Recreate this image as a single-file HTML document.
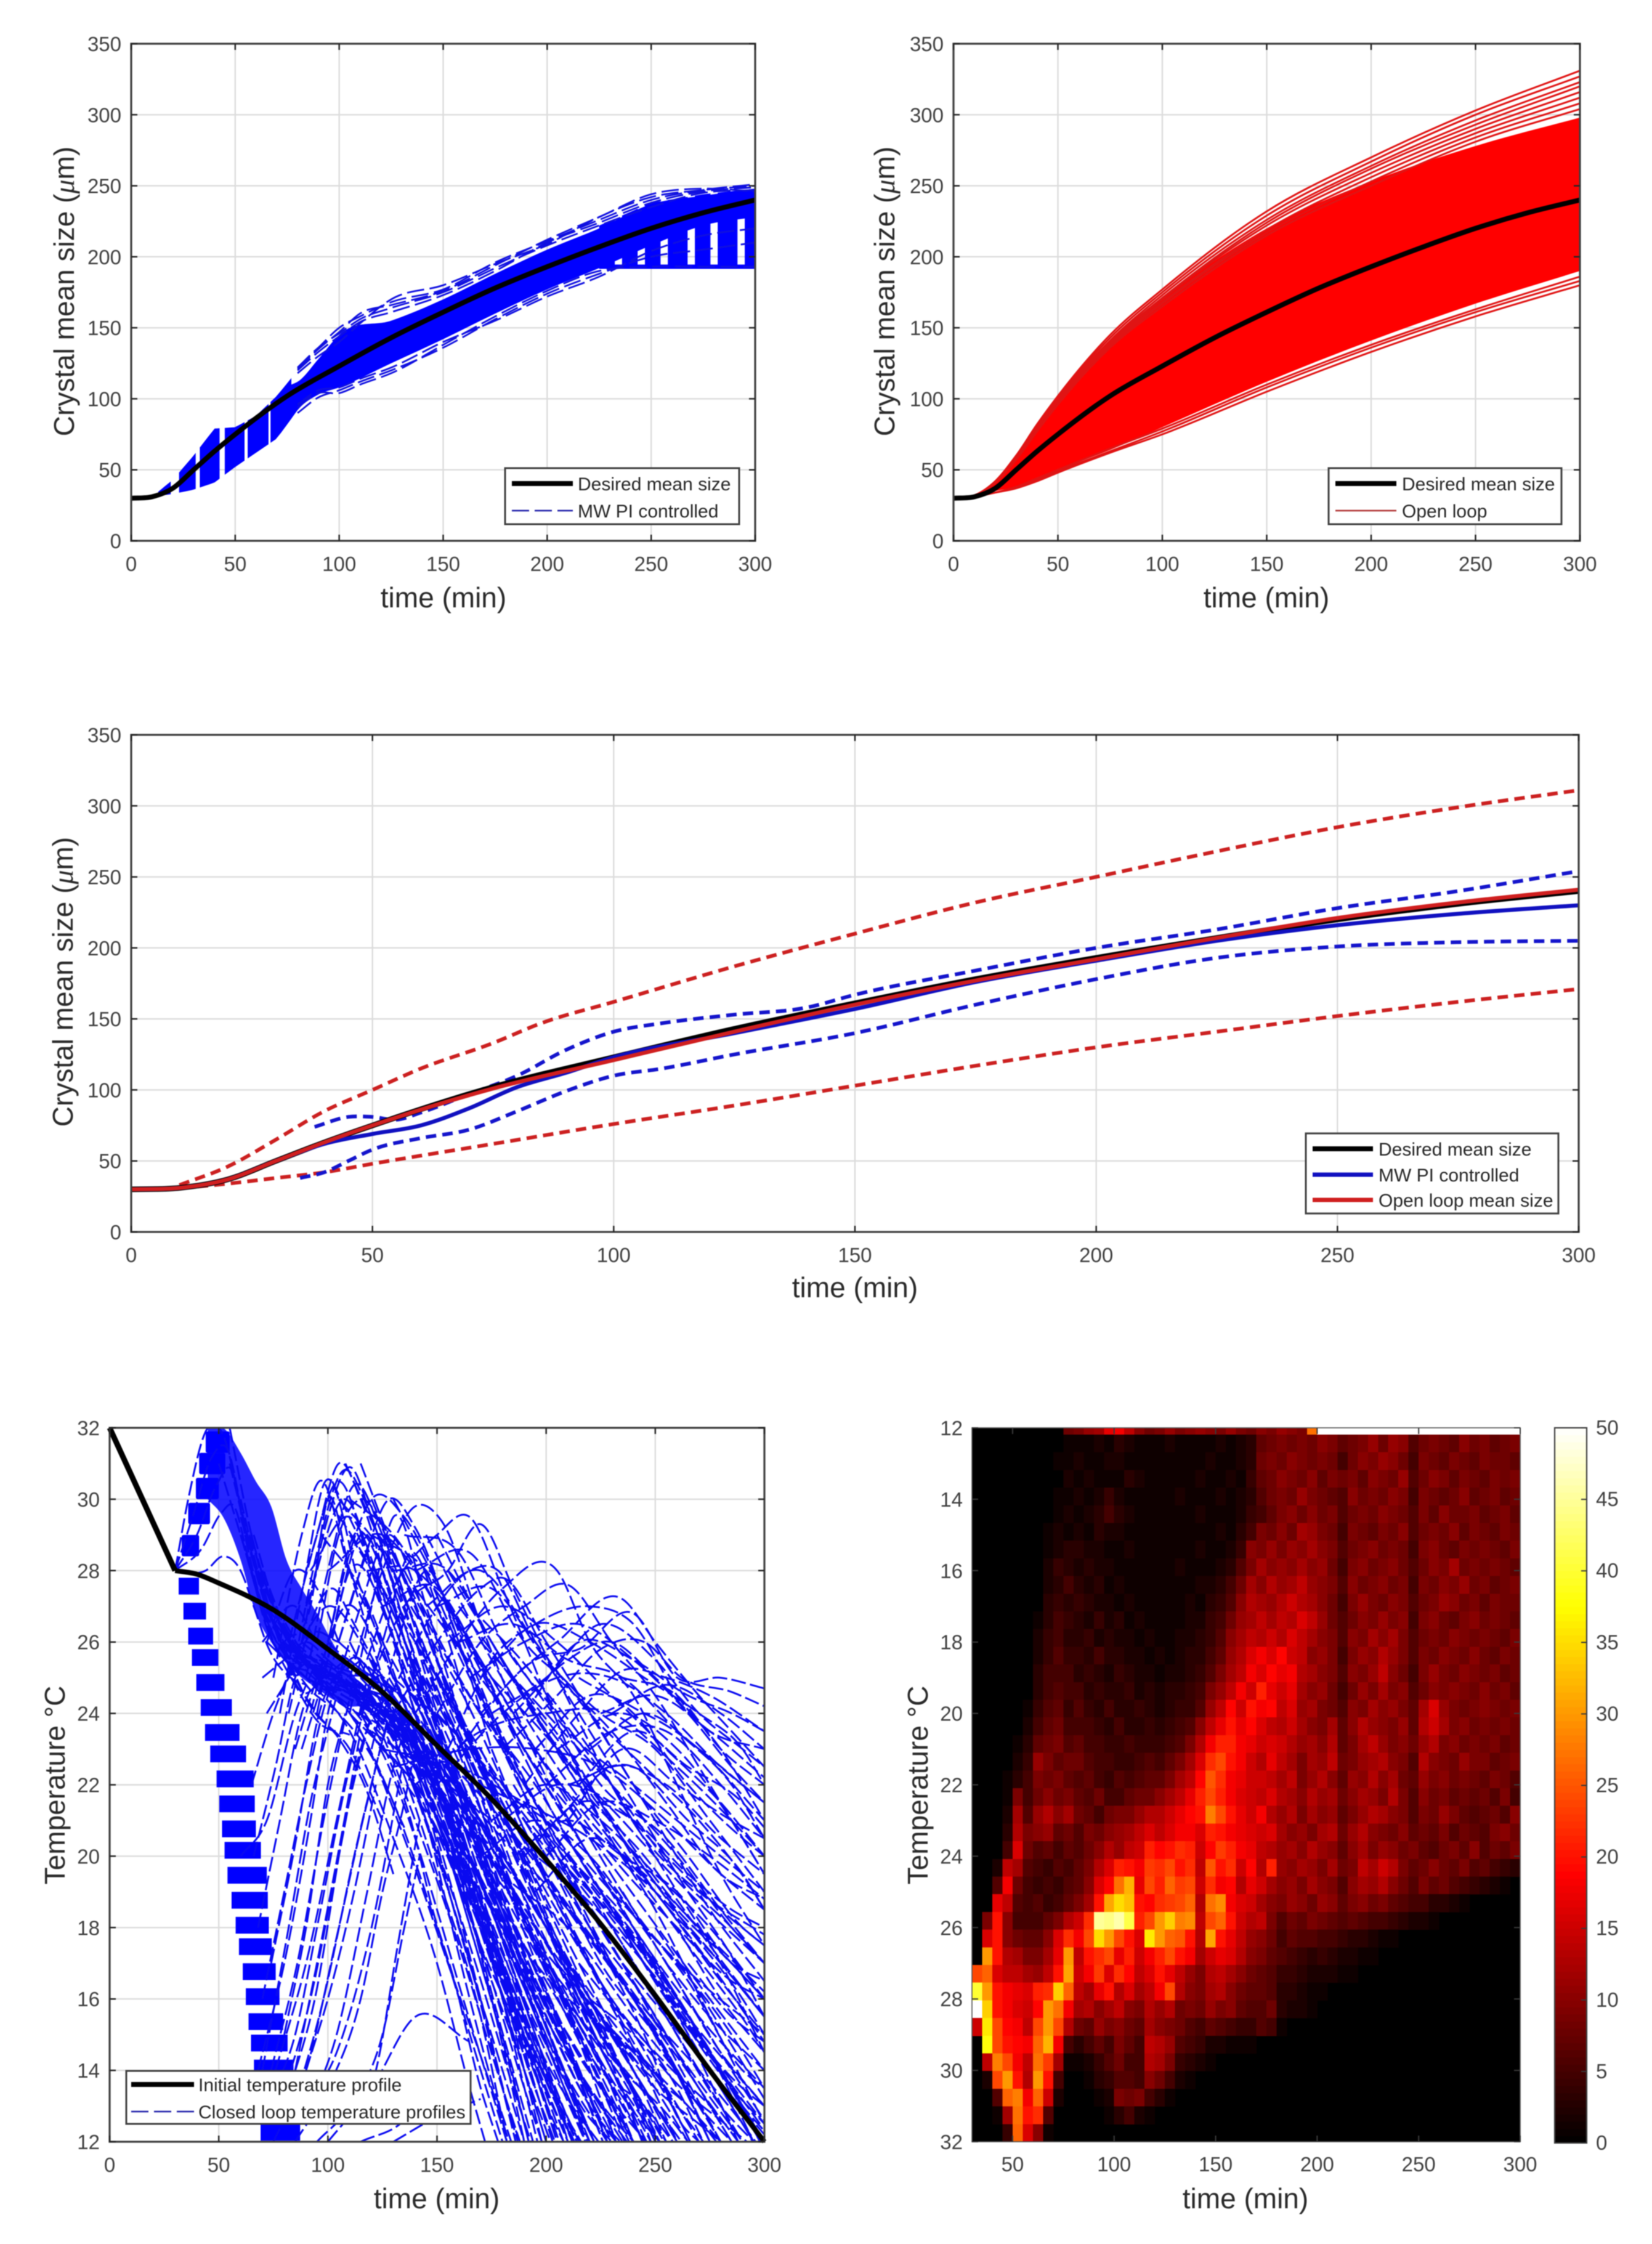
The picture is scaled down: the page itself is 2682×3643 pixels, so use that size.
<!DOCTYPE html>
<html lang="en">
<head>
<meta charset="utf-8">
<title>Crystal mean size and temperature charts</title>
<style>
html,body{margin:0;padding:0;background:#fff;}
svg{display:block;filter:blur(0.7px);font-family:"Liberation Sans",sans-serif;}
.tick{font-size:33px;fill:#404040;}
.title{font-size:46px;fill:#2a2a2a;text-anchor:middle;}
.leg{font-size:30px;fill:#262626;}
.box{fill:#fff;stroke:#404040;stroke-width:3;}
</style>
</head>
<body>
<svg id="root" xmlns="http://www.w3.org/2000/svg" width="2682" height="3643" viewBox="0 0 2682 3643">
<rect width="2682" height="3643" fill="#fff"/>

<g>
  <g id="c1"></g>
  <text class="title" x="720" y="986">time (min)</text>
  <text class="title" transform="translate(120,473) rotate(-90)">Crystal mean size (<tspan font-family="Liberation Serif" font-style="italic">μ</tspan>m)</text>
  <g>
    <rect class="box" x="820" y="760" width="380" height="91"/>
    <line x1="831" x2="930" y1="785" y2="785" stroke="#000" stroke-width="8"/>
    <line x1="831" x2="930" y1="829" y2="829" stroke="#1a1aa8" stroke-width="2.5" stroke-dasharray="28 9"/>
    <text class="leg" x="938" y="796">Desired mean size</text>
    <text class="leg" x="938" y="840">MW PI controlled</text>
  </g>
</g>

<g>
  <g id="c2"></g>
  <text class="title" x="2056" y="986">time (min)</text>
  <text class="title" transform="translate(1452,473) rotate(-90)">Crystal mean size (<tspan font-family="Liberation Serif" font-style="italic">μ</tspan>m)</text>
  <g>
    <rect class="box" x="2157" y="760" width="378" height="91"/>
    <line x1="2168" x2="2267" y1="785" y2="785" stroke="#000" stroke-width="8"/>
    <line x1="2168" x2="2267" y1="829" y2="829" stroke="#b03030" stroke-width="2.5"/>
    <text class="leg" x="2276" y="796">Desired mean size</text>
    <text class="leg" x="2276" y="840">Open loop</text>
  </g>
</g>

<g>
  <g id="c3"></g>
  <text class="title" x="1388" y="2106">time (min)</text>
  <text class="title" transform="translate(118,1594) rotate(-90)">Crystal mean size (<tspan font-family="Liberation Serif" font-style="italic">μ</tspan>m)</text>
  <g>
    <rect class="box" x="2120" y="1840" width="410" height="130"/>
    <line x1="2131" x2="2229" y1="1865" y2="1865" stroke="#000" stroke-width="8"/>
    <line x1="2131" x2="2229" y1="1907" y2="1907" stroke="#1010c0" stroke-width="7"/>
    <line x1="2131" x2="2229" y1="1948" y2="1948" stroke="#d01f1f" stroke-width="7"/>
    <text class="leg" x="2238" y="1876">Desired mean size</text>
    <text class="leg" x="2238" y="1918">MW PI controlled</text>
    <text class="leg" x="2238" y="1959">Open loop mean size</text>
  </g>
</g>

<g>
  <g id="c4"></g>
  <text class="title" x="709" y="3585">time (min)</text>
  <text class="title" transform="translate(105,2898) rotate(-90)">Temperature °C</text>
  <g>
    <rect class="box" x="205" y="3362" width="559" height="86"/>
    <line x1="213" x2="315" y1="3384" y2="3384" stroke="#000" stroke-width="8"/>
    <line x1="213" x2="315" y1="3428" y2="3428" stroke="#1a1aa8" stroke-width="2.5" stroke-dasharray="28 9"/>
    <text class="leg" x="322" y="3395">Initial temperature profile</text>
    <text class="leg" x="322" y="3439">Closed loop temperature profiles</text>
  </g>
</g>

<g>
  <g id="c5"></g>
  <text class="title" x="2022" y="3585">time (min)</text>
  <text class="title" transform="translate(1506,2898) rotate(-90)">Temperature °C</text>
</g>
</svg>

<script>
/* ---------- shared axis labels ---------- */
const sizeTicks = [0, 50, 100, 150, 200, 250, 300, 350];
const timeTicks = [0, 50, 100, 150, 200, 250, 300];
const tempTicks = [12, 14, 16, 18, 20, 22, 24, 26, 28, 30, 32];
const heatTimeTicks = [50, 100, 150, 200, 250, 300];
const colorbarTicks = [0, 5, 10, 15, 20, 25, 30, 35, 40, 45, 50];

/* ---------- desired mean size ---------- */
const desiredTime = [0, 10, 20, 30, 40, 50, 75, 100, 125, 150, 175, 200, 225, 250, 275, 300];
const desiredSize = [30, 31, 37, 50, 63, 75, 102, 123, 143, 161, 178, 193, 207, 220, 231, 240];

/* ---------- chart 1: closed loop envelope, dash stripes and fringe runs ---------- */
const closedEnvTime = [10, 20, 30, 40, 50, 60, 70, 80, 90, 100, 110, 125, 150, 175, 200, 225, 250, 275, 300];
const closedEnvLow = [31, 33, 36, 41, 52, 62, 72, 92, 103, 107, 115, 125, 142, 160, 177, 192, 192, 192, 192];
const closedEnvHigh = [31, 43, 60, 79, 80, 88, 102, 120, 135, 148, 155, 160, 172, 190, 206, 222, 238, 244, 248];
const stripeStart = [13, 23, 33, 45, 56, 67, 225, 236, 247, 258, 271, 282, 295];
const stripeEnd = [19, 31, 42.5, 54.5, 66, 77, 232.5, 243.5, 254.5, 267.5, 278.5, 291.5, 300];
const closedCoreTime = [77, 80, 90, 100, 125, 150, 175, 200, 225, 250, 275, 300];
const closedCoreHigh = [110, 112, 128, 145, 155, 170, 188, 205, 220, 237, 243, 248];
const closedCoreLow = [86, 92, 103, 108, 125, 142, 160, 177, 192, 208, 222, 228];
const closedFloorTime = [225, 300];
const closedFloorSize = [193, 193];
const fringeTime = [80, 90, 100, 110, 125, 150, 175, 200, 225, 250, 275, 300];
const fringeRuns = [
  [122,136,150,158,168,177,196,211,226,240,247,251],
  [122,136,146,156,164,175,192,208,222,235,245,247],
  [120,133,144,154,161,173,190,210,224,238,246,249],
  [118,130,140,153,170,180,195,209,228,242,247,250],
  [121,135,147,160,166,176,194,212,228,244,248,246],
  [94,104,104,110,118,138,158,176,190,193,193,193],
  [90,101,106,112,120,136,156,174,188,200,205,210],
  [96,106,108,114,122,140,155,172,186,204,215,220]
];

/* ---------- chart 2: open loop runs ---------- */
const openTime = [0, 10, 20, 30, 40, 50, 75, 100, 150, 200, 250, 300];
const openCoreHigh = [30, 32, 41, 58, 79, 99, 139, 170, 220, 253, 278, 298];
const openCoreLow = [30, 31, 35, 38, 44, 50, 64, 80, 112, 141, 167, 190];
const openRuns = [
  [30,32,42,60,82,102,145,177,232,270,303,331],
  [30,32,42,60,81,101,143,175,229,267,300,327],
  [30,32,41,59,80,100,141,173,226,264,296,323],
  [30,32,41,59,80,99,140,171,224,262,293,320],
  [30,32,41,58,79,98,139,170,222,259,290,316],
  [30,32,41,58,78,97,138,168,219,256,287,312],
  [30,32,41,58,78,96,137,167,217,253,284,308],
  [30,32,41,57,77,96,136,165,215,250,281,304],
  [30,31,34,38,44,50,65,79,110,138,163,186],
  [30,31,34,37,43,49,63,77,108,136,161,183],
  [30,31,34,37,42,48,62,75,105,133,158,180]
];

/* ---------- chart 3: means and bounds ---------- */
const openUpperTime = [10,20,30,40,50,60,75,85,100,125,150,175,200,225,250,275,300];
const openUpperSize = [33,46,65,85,100,115,133,147,162,187,210,232,250,268,285,299,311];
const openLowerTime = [0,10,20,30,40,50,75,100,125,150,175,200,225,250,275,300];
const openLowerSize = [30,31,34,38,42,48,62,76,89,103,117,130,141,152,162,171];
const pidUpperTime = [38,45,50,55,60,70,80,90,100,110,125,140,150,175,200,225,250,275,300];
const pidUpperSize = [74,81,81,79,84,97,110,128,141,147,153,158,167,184,200,213,228,240,254];
const pidLowerTime = [35,40,45,50,60,70,80,90,100,110,125,150,175,200,225,250,275,300];
const pidLowerSize = [38,42,50,58,66,72,85,99,110,115,125,140,160,178,193,201,204,205];
const pidMeanTime = [0,10,20,30,40,50,60,70,80,90,100,125,150,175,200,225,250,275,300];
const pidMeanSize = [30,31,37,50,62,69,75,87,102,112,123,140,157,176,191,205,216,224,230];
const openMeanTime = [0,10,20,30,40,50,75,100,125,150,175,200,225,250,275,300];
const openMeanSize = [30,31,37,50,63,75,101,121,141,160,177,192,207,221,232,241];

/* ---------- chart 4: temperature profiles ---------- */
const rampTime = [0, 30];
const rampTemp = [32, 28];
const initialTime = [30,40,50,75,100,125,150,175,200,225,250,275,300];
const initialTemp = [28,27.9,27.65,26.9,25.8,24.6,23.1,21.6,19.9,18.1,16.1,14,12];
/* dash bars of the steep-descent family: top temperature of each bar, and left/right time limits vs temperature */
const barTops = [27.8,27.1,26.4,25.8,25.1,24.4,23.7,23.1,22.4,21.7,21.0,20.4,19.7,19.0,18.3,17.7,17.0,16.3,15.6,15.0,14.3,12.5];
const barThickness = 0.47;
const barEdgeTemp = [28,26.4,25,23.6,22.4,21,19.7,18.2,16.8,15.4,14.1,12];
const barLeftTime = [31,36,40,44,49,51.5,54,58,61.5,64,66.5,70];
const barRightTime = [40,47.4,53,60,66,67,72,73,76.6,80,85,88];
/* dash blobs of the rising family */
const blobTops = [29,29.9,30.6,31.3,31.9];
const blobThickness = 0.6;
const blobLeftTime = [33,36,39.5,41,44];
const blobRightTime = [41,46,50,53,55];
const massTime = [45,52,60,67,74,81,88,95,102,109,115];
const massHigh = [32,32,31.3,30.5,29.8,28.3,27.5,26.8,26,25.3,24.8];
const massLow = [30,29.5,28.3,26.8,26,25.4,25,24.7,24.4,24.2,24.2];
/* each profile: time, temperature, time, temperature ... */
const profileRuns = [
  [30,28,36,30,45,32,52,31.8,60,29.8,68,27.8,78,26.2,90,25.2],
  [30,28,38,29.5,47,31.2,54,31.4,62,29.2,70,27.3,80,25.9,90,25.4],
  [30,28,40,29,49,30.4,56,30.8,63,28.7,71,26.8,81,25.6,90,25.4],
  [30,28,42,28.6,51,29.6,57,29.8,64,28.2,72,26.4,82,25.4,90,25.2],
  [30,28,44,28,52,28.4,60,28,66,27,73,25.8,83,25,90,24.8],
  [60,29,75,26,90,25,110,23.5,130,20.5,150,17,165,13.5,172,12],
  [60,29,75,26.2,90,25.2,110,24,130,21.5,150,18,170,14,180,12],
  [62,29,76,26.4,92,25.3,115,23.5,135,20.5,155,17,175,13.5,183,12],
  [64,29,78,26.5,95,25.2,120,24,140,21,160,17.5,180,13.5,188,12],
  [66,29,80,26.2,98,25.4,120,24.5,145,21,165,17.5,185,13.5,193,12],
  [68,28,82,26,100,25.4,125,24.5,150,21,170,17.5,190,13.5,198,12],
  [70,28,85,25.8,105,25,130,24,150,21.5,175,17,195,13.5,203,12],
  [70,27,88,25.6,110,24.8,135,23.5,155,21,180,16.5,200,13.5,210,12],
  [72,27,90,25.5,112,24.8,135,24,160,20.5,185,16,205,13,213,12],
  [72,26,90,25,115,24.4,140,23,165,19.5,190,15,208,12],
  [74,27,92,25.2,118,25,140,24,165,20,192,16,212,13,220,12],
  [75,27,95,25,120,24.4,145,23,172,19.5,198,15.5,218,12.5,222,12],
  [76,27,100,24.6,125,23.6,150,22,175,18.5,195,15,212,12],
  [78,26,100,25,125,24.4,150,23,178,19,205,15.5,225,12.5,228,12],
  [80,26,105,24.6,130,23.6,155,22,180,18.5,210,14.5,230,12],
  [82,26,108,24.8,135,23.6,160,22,188,18.5,215,15,238,12],
  [85,26,110,24.6,140,23,165,21,195,17.5,222,14.5,245,12],
  [88,26,115,24.6,145,23,170,21,200,18,230,14,248,12],
  [90,25,120,24,150,22,175,20,205,17,235,13.5,252,12],
  [95,25,125,24,155,22,180,20,210,17,240,14,258,12],
  [100,25,130,23.5,160,21,185,19,215,16,245,13,255,12],
  [105,25,135,23.5,165,21,190,19,220,16,250,13.5,265,12],
  [110,25,140,23,170,20,195,18,225,15.5,255,13.5,270,12],
  [115,25,145,23,175,20.5,200,18,235,15,265,13,280,12],
  [120,25,150,23,180,21,205,19,240,16,270,13.5,285,12],
  [130,25,165,23,190,21,215,19,250,16,280,13.5,295,12],
  [80,25.5,95,29,105,31,115,30,130,27,150,23.5,170,20,190,16.5,210,13.5,220,12],
  [85,25.5,95,28.5,107,30.8,118,29.8,135,26.5,155,23,175,19.5,195,16,215,13,222,12],
  [88,26,100,29.5,110,30.9,120,29.5,140,25.5,160,22,180,18.5,200,15.5,220,13,232,12],
  [90,25,100,28,112,30.4,125,29,145,25.5,165,22.5,185,19.5,205,17,230,13.5,240,12],
  [95,26,105,29,115,30,130,28.5,150,25.5,170,22.5,190,20,215,17,240,14,255,12],
  [100,26,110,28.5,120,30,135,29.5,155,27,175,24,195,21,220,18,245,15,262,12.5,270,12],
  [100,25,115,28,128,30,140,29.2,160,26,180,23,205,20,230,17,255,14.5,275,12],
  [110,25,125,28,140,29.8,152,29.4,170,26.5,190,23.5,215,20.5,240,18,265,15,288,12],
  [115,25,130,27.5,150,29,165,29.5,180,27.5,200,24.5,225,21,250,18.5,275,15.5,300,12.5],
  [120,25,135,27,155,28,170,29.3,185,27.5,205,25,230,22,255,19.5,280,17,300,14.5],
  [125,24,145,26.5,165,28,178,28,195,26,215,24,240,21.5,265,19,285,17.2,300,15.5],
  [130,24,150,26,170,27.5,180,27.8,200,26,225,23.5,250,21,275,18.5,300,16.5],
  [140,24,160,26,180,27.5,205,28,220,26,240,24.5,260,22,280,19.5,300,17.5],
  [150,24,170,26,190,27,210,27.6,230,26,250,24.5,270,22.5,290,20.5,300,19.5],
  [155,23,175,25.5,195,26.5,220,27,240,26.5,260,24.5,280,23,300,21],
  [160,23,185,25,205,26,235,27.2,250,26,270,24.5,285,23.5,300,22.5],
  [170,24,195,25.5,215,25.8,240,26.8,260,25,280,25,300,24.7],
  [180,23,205,24.5,225,25.8,245,26,262,25,285,24.6,300,24.2],
  [190,22,215,24,235,25.2,255,25,275,24.5,300,23.5],
  [150,22,180,24,205,25,230,25,255,24,280,22.5,300,21.5],
  [140,22,170,23.5,200,24,230,24,260,22.5,285,21,300,20],
  [130,22.5,165,23,195,23,225,22.5,255,21,280,19.5,300,18.5],
  [125,23,160,22.5,190,21.5,220,20.5,250,19,280,17,300,15.5],
  [120,23.5,155,22,185,20.5,215,19,245,17,275,14.5,295,12.5,300,12],
  [115,24,150,21.8,180,19.5,210,18,240,15.5,265,13.5,280,12],
  [115,24.5,150,22.5,180,20.5,210,18.5,235,16.5,260,14,275,12],
  [110,25,145,23,175,20.5,205,17.5,230,15,250,13,260,12],
  [110,24,140,22,170,19,195,16.5,220,14,240,12],
  [105,25,135,23.5,165,20,190,17,215,14,235,12],
  [105,26,140,24,170,21,200,18,225,15,248,12.5,252,12],
  [150,24,180,22,210,20,240,18,270,15,290,13,300,12.3],
  [170,22,200,21,230,19,260,17,285,15,300,13.5],
  [175,25,205,23,235,20.5,265,18,290,16,300,15],
  [165,27,195,25,225,22,255,20.5,280,18.5,300,17],
  [140,27.5,170,25,200,22.5,230,20,260,18,285,16.5,300,16],
  [150,29,175,26,205,23,235,21,265,19,300,17],
  [135,28,165,24.5,195,22,225,19,255,16.5,280,14,298,12],
  [180,26,210,23.5,240,22,270,20.5,300,19],
  [68,14,80,17,92,21,100,24,110,25.5,125,24.5,145,21,165,17,180,13.5,187,12],
  [72,13,85,15,95,18,110,22.5,122,25,140,22.5,160,18,180,14,190,12],
  [75,12,90,14,105,18,118,21.5,130,24,150,21,170,17,190,12.5,192,12],
  [70,16,80,19,90,22,100,24.5,115,25.5],
  [68,18,78,21,88,24,100,25.5],
  [66,20,76,22.5,85,25,95,25.5],
  [65,22,75,24,85,25.5],
  [78,13,92,16,105,20,115,23,125,24.5],
  [85,12,100,13.5,115,16,125,19,135,21.5,140,23],
  [95,12,110,13,125,15,135,18,142,20],
  [100,12,120,13.5,140,15.5,165,14.8],
  [115,12,135,12.6,150,13.8],
  [130,12,150,12.7,170,13.2],
  [80,15,90,18,100,22,108,24],
  [85,14,95,17,106,20.5,115,23.5],
  [90,14,100,16,112,19,122,22],
  [70,12,300,12],
  [100,25.5,125,24,150,20,170,16,185,12.5,188,12],
  [105,25,130,23,150,19.5,170,15.5,182,12],
  [100,26,130,24,155,19.5,172,15.5,186,12],
  [110,26,135,23,155,20.5,175,16,190,12],
  [110,25.5,135,24,158,20,178,15.5,194,12],
  [115,25.5,140,23.5,160,20.5,180,16,196,12],
  [118,25,142,23,163,19.5,185,15,200,12],
  [120,25.5,145,22.5,168,18.5,190,14,202,12],
  [125,25,148,22,170,18.5,192,14.5,205,12],
  [125,26,150,23,172,19,195,15,210,12],
  [130,25,152,22.5,175,18.5,198,14.5,214,12],
  [130,26,155,22.5,178,18.5,202,14.5,218,12],
  [135,25,158,22,180,18,205,14,219,12],
  [135,26,160,23,183,19,208,15,226,12],
  [140,25,162,22,185,18,210,14.5,226,12],
  [140,26,165,22.5,188,18.5,214,15,232,12],
  [145,24,168,21,192,17,218,13.5,228,12],
  [145,25,170,22,195,18,222,14,236,12],
  [150,24,172,21,196,17.5,224,14,240,12],
  [150,25,175,22,198,18.5,228,14.5,244,12],
  [155,24,178,21,200,18,230,14,246,12],
  [160,24,182,21,205,18,235,14,250,12],
  [165,23,185,20.5,210,17,240,13.5,254,12],
  [170,23,190,20.5,215,17.5,245,14,260,12],
  [175,23,195,20,220,17,250,14,266,12],
  [180,22,200,20,225,17,255,14.5,275,12],
  [185,22,210,19.5,235,17,262,14,280,12],
  [190,21,215,18.5,240,16,270,13,285,12],
  [195,21,220,19,245,16.5,275,13.5,290,12],
  [205,20,230,18,255,15.5,280,13,295,12],
  [210,20,235,18,260,16,285,13.5,298,12],
  [220,18,245,16,270,13.5,288,12],
  [225,19,250,17,275,14.5,295,12],
  [235,19,260,16.5,285,14,300,12.6],
  [100,28,125,29,145,27.5,165,25,190,22,215,20,245,17,275,14.5,300,12.5],
  [105,30,125,28.5,150,25,175,22,200,19.5,230,17,260,14.5,290,12],
  [110,29,130,27,155,24.5,180,22,205,20,235,18,265,15.5,300,13],
  [110,30,130,29,150,27,175,24,200,21,230,18.5,260,16,295,12.5],
  [118,28,140,28,160,26.5,185,23.5,210,21,240,18,270,15.5,300,13.5],
  [120,29,145,28,165,26,190,23,215,21,245,18.5,275,16,300,14],
  [125,27,150,27.5,170,25.5,195,23,220,21,250,19,280,16.5,300,15],
  [130,28,155,28,175,26,200,23.5,225,21.5,255,19,285,17,300,16],
  [135,29,160,28.5,180,26,205,24,230,22,260,19.5,285,18,300,17],
  [140,28,165,28.5,190,26,215,24.5,240,22,265,20,290,18,300,17.5],
  [145,27,170,28,195,26,220,24,245,22.5,270,21,295,19,300,18.5],
  [150,27,175,27.5,200,25.5,225,24,250,23,275,21,300,19],
  [155,26,180,27,205,26,230,24.5,255,23,280,21.5,300,20],
  [160,26,185,26.5,210,25.5,235,25,260,23.5,285,22,300,20.5],
  [165,25,190,26,215,26.5,240,25.5,265,24,285,22.5,300,21.5],
  [170,25,195,26.5,220,26,245,25,270,24,290,23,300,22],
  [175,24,200,25,225,26.5,250,25.5,270,24,290,23,300,22.5],
  [185,24,210,25.5,230,26,250,25,275,23.5,300,23],
  [190,24,215,26,240,25.5,265,24.5,285,24,300,23.5],
  [195,23,220,24.5,245,24,270,23,300,21],
  [200,22,230,23.5,255,23.5,280,22,300,20.5],
  [205,23,235,24,260,23,285,21,300,19.5],
  [210,22,240,22.5,265,21,290,19.5,300,18.5],
  [170,26,200,24,230,22,260,20,285,18,300,17],
  [160,27,190,24.5,220,22,250,19,280,17,300,15.5],
  [155,28,185,25,215,22,245,20,275,17.5,300,15.5],
  [145,29,175,25.5,205,22.5,235,20,265,17.5,295,15,300,14.5],
  [130,30,160,26.5,190,23,220,20,250,17.5,280,14.5,300,13],
  [125,29,155,25.5,185,22.5,215,19.5,245,17,275,14,295,12],
  [120,30,150,25.5,180,21.5,210,18.5,240,16,270,13,280,12],
  [115,31,140,27,170,22.5,200,19,230,16,260,13.5,272,12],
  [108,31,130,28,160,23.5,190,19.5,220,16,250,13,260,12],
  [102,30.5,125,27.5,155,23,185,19,215,15.5,245,12.5,248,12],
  [100,30,120,28,145,24,175,20,205,16.5,235,13,245,12],
  [97,29,115,27.5,140,23.5,165,20,195,16,225,13,237,12],
  [92,28,110,29.5,130,26.5,155,22.5,180,18.5,205,14.5,222,12],
  [90,27,108,30,125,27,150,22,175,18,200,14.5,218,12],
  [90,28,105,30.5,120,28,145,23,168,19,190,15.5,212,12],
  [50,31,60,29,70,27,80,26,90,25.5,100,25.2,115,24.6],
  [55,32,65,29,75,27,85,25.7,95,25.2,110,24.8,125,23.7],
  [55,31,65,28.5,75,26.5,85,25.3,95,24.8,110,24.2,125,23],
  [60,30,70,27.5,80,25.8,90,24.8,105,24,120,22.8,135,20.8],
  [60,29.5,72,27,82,25.5,92,24.2,105,23.3,118,21.8,130,19.5],
  [65,29,75,26.5,85,25,95,24,110,23,125,21],
  [65,28,75,26,85,24.8,95,23.8,110,23.4],
  [68,28,78,26,88,24.6,98,25,110,25.6],
  [70,25,80,25.5,90,26,100,25.5],
  [72,24,82,25,92,26.2,105,26],
  [70,26,85,27,95,26,110,25.5],
  [72,26,85,28,95,27.5,105,26],
  [75,25,88,29,96,30.5,110,28,125,26],
  [78,24,90,28,98,30.4,115,27.5,130,25],
  [80,26,92,27,100,30,110,28,125,25],
  [82,24,92,26.5,102,27.5,112,26.5,125,25],
  [78,24.5,88,26,100,27,115,26,130,24],
  [85,23,95,25,108,27,122,26,140,23.5],
  [88,23,98,25,110,28,125,27,140,24],
  [92,24,100,26,112,29,125,28,140,25],
  [95,24,105,27,115,29,130,27,145,24],
  [100,25,110,27,122,29,135,27,150,24],
  [105,25,115,27,128,29,140,27.5,155,24.5],
  [110,24,120,27,130,29.5,145,27,160,24],
  [115,24,125,26,138,28.5,150,27,165,24],
  [120,23,132,26,145,28,160,26,175,23],
  [60,20,72,21,85,24,95,25.5],
  [70,14,82,18,92,21.5,104,24.5],
  [74,14,86,17,98,21,112,25],
  [74,17,84,20,96,24,108,25.5],
  [76,14,90,17,104,21,118,25],
  [80,13,94,16,108,21,122,24.5],
  [82,12.5,98,16,112,20,128,24],
  [88,12.5,104,15,118,19,130,22.5,138,24],
  [90,13,104,14.5,120,18,134,22.5],
  [108,12.5,122,14,132,17.5,142,21],
  [125,23,140,22,155,20.5,170,18,190,15,210,12.5,214,12],
  [128,24,145,22,162,19.5,180,17,200,14,215,12],
  [132,23,150,21,168,18.5,185,16,205,13,212,12],
  [136,22,152,20.5,170,17.5,188,15,204,12.5,208,12],
  [140,22,158,19.5,175,16.5,190,14,200,12],
  [144,22,160,19.5,176,17,192,14.5,206,12],
  [148,21,164,19,180,16.5,196,14,210,12],
  [152,21,170,18.5,186,16,202,13.5,216,12],
  [156,21,172,19,190,16,206,14,222,12],
  [160,20,176,18,194,15,212,13,224,12],
  [164,20,180,18,198,15.5,216,13,230,12],
  [168,20,186,17.5,204,15,222,12.8,234,12],
  [172,19,190,17,210,14.5,226,13,240,12],
  [176,19,194,17,214,14.5,232,13,246,12],
  [180,19,198,17,218,15,238,13,252,12],
  [185,18,205,16,225,14,245,13,258,12],
  [190,18,210,16.5,230,14.5,250,13,262,12],
  [195,17,215,15.5,235,14,255,12.8,265,12],
  [200,17,220,15.5,240,14.5,260,13,272,12],
  [205,17,225,15.5,245,14,265,13,278,12],
  [210,16,230,15,250,13.5,270,12.5,280,12],
  [215,17,235,15.5,258,14,278,12.8,288,12],
  [220,16,240,15,262,13.5,282,12.5,292,12],
  [228,17,248,15.5,270,14,290,12.5,296,12],
  [235,17,255,15.5,275,14,300,12.2],
  [240,18,262,15.5,285,13.5,300,12.5],
  [245,17,268,15,290,13.5,300,13],
  [250,18,272,16,292,14,300,13.2],
  [255,17,275,15.5,300,14],
  [260,18,280,16,300,14.5],
  [265,17,285,15.5,300,14.8],
  [170,20,195,21,220,20,245,18,270,16.5,300,15],
  [175,21,200,22,225,21,250,19.5,275,18,300,16],
  [180,21,205,22,230,21.5,255,20,280,18.5,300,17.5],
  [185,20,210,21,235,20,260,19,285,17,300,16.5],
  [190,20,215,21.5,240,21,265,19.5,285,18.5,300,18],
  [195,19,220,20.5,245,19.5,270,18,300,16.2],
  [200,20,225,21.5,250,21,275,20,300,18.8],
  [205,21,230,22.5,255,22,280,20.5,300,19.5],
  [210,21,235,23,260,22,285,21,300,20.5],
  [215,22,240,23.5,265,22.5,290,21.5,300,20.8],
  [220,23,245,24,270,23,290,22,300,21.5],
  [225,24,250,24.5,275,23.5,300,22.2],
  [230,24,255,24.8,280,24,300,23],
  [235,25,260,24.5,280,23,300,22],
  [215,25,240,24,265,22,290,20.5,300,20],
  [205,25,230,23.5,255,21.5,280,19.5,300,18.8],
  [195,25,220,23,245,20.5,270,19,300,17.8],
  [185,25,210,23,235,20.5,260,18.5,285,17,300,16],
  [175,26,200,23.5,225,21,250,19,275,17,300,14.8],
  [165,26,190,23.5,215,21,240,18.5,265,16.5,290,14,300,13.5],
  [155,27,180,24,205,21,230,18.5,255,16,280,14,298,12.5],
  [145,28,170,24.5,195,21.5,220,18.5,245,16,270,13.5,285,12],
  [138,27,162,24.5,188,21,212,18,238,15,262,12.5,266,12],
  [132,27,155,24.5,180,21,205,17.5,230,14.5,252,12],
  [128,28,150,24.5,172,21,198,17,222,14,240,12],
  [122,28,145,24.5,168,20.5,190,17.5,215,14,232,12],
  [118,28,140,24.5,162,20.5,185,17,208,14,228,12],
  [125,25,140,23,150,22,160,20.5,170,19,180,17,192,14.5,205,12],
  [128,25,142,23.5,154,22,165,20,176,17.5,188,15,200,12.5],
  [130,24.5,145,23,156,21,166,19,178,17,188,14.5,198,12],
  [134,24,148,22.5,158,20.5,168,18.5,180,16.5,192,14,204,12],
  [120,25,135,23.5,148,21.5,158,19.5,170,17,182,14.5,192,12],
  [118,24.5,132,23,145,21,155,18.5,165,16,176,13.5,184,12],
  [115,24,128,22.5,140,20.5,150,18.5,162,16,172,14,182,12],
  [112,24.5,126,23,138,21,148,18.5,158,16.5,170,13.5,178,12]
];

/* ---------- chart 5: heatmap counts (rows T = 12.25 ... 31.75, columns t = 30 ... 295) ---------- */
const heatTopRow = [0,0,0,0,0,0,0,0,0,8,9,11,12,17,18,14,10,8,9,11,9,10,11,10,9,11,9,8,10,9,11,10,9,27,50,50,50,50,50,50,50,50,50,50,50,50,50,50,50,50,50,50,50,50];
const heatRows = [
[0,0,0,0,0,0,0,0,0,1,1,1,2,1,3,2,1,1,1,2,1,1,1,1,2,1,2,3,7,8,9,8,9,8,10,9,7,8,9,11,8,11,10,6,8,9,8,7,10,8,9,7,8,9],
[0,0,0,0,0,0,0,0,1,1,2,1,1,2,2,1,1,1,1,1,1,1,1,2,1,1,2,3,8,9,8,10,9,8,9,8,5,8,10,9,11,10,8,5,9,8,7,9,8,7,9,8,8,7],
[0,0,0,0,0,0,0,0,0,2,1,2,1,1,1,3,2,1,1,1,1,1,2,1,1,2,1,4,7,8,10,9,8,10,7,9,8,9,7,10,9,8,11,6,8,10,9,7,9,8,7,9,8,9],
[0,0,0,0,0,0,0,0,1,1,2,1,2,4,2,1,1,1,1,1,2,1,1,1,2,1,2,3,6,8,9,8,11,9,8,7,6,10,8,9,8,10,9,5,9,8,7,8,10,7,8,9,7,8],
[0,0,0,0,0,0,0,0,1,2,1,2,3,5,3,2,1,1,1,1,1,1,2,1,1,1,2,4,5,7,9,10,8,10,8,9,6,8,9,8,10,9,8,6,9,7,10,8,8,9,7,8,9,7],
[0,0,0,0,0,0,0,1,2,1,2,1,3,2,2,1,1,1,1,1,1,1,1,1,2,1,3,5,9,8,10,8,12,11,9,8,5,9,8,7,9,8,10,6,8,9,8,10,7,9,8,7,9,8],
[0,0,0,0,0,0,0,1,2,3,3,2,2,1,1,2,1,1,1,1,1,1,2,1,1,2,4,10,9,11,9,11,10,12,10,9,6,8,9,10,8,9,8,5,9,10,8,7,9,8,9,8,7,9],
[0,0,0,0,0,0,0,2,4,3,2,3,2,2,1,1,1,1,1,1,2,1,1,1,2,3,6,9,12,10,11,10,12,10,11,8,5,9,10,8,9,10,8,6,8,10,9,12,8,9,8,9,8,7],
[0,0,0,0,0,0,0,2,3,5,3,2,3,1,2,1,1,1,1,1,1,1,2,2,3,5,8,12,10,13,11,12,14,11,10,9,6,10,8,9,10,8,9,5,9,8,10,9,11,8,9,7,8,9],
[0,0,0,0,0,0,0,3,4,3,4,3,2,2,1,2,1,1,1,1,1,2,1,3,4,6,10,13,12,11,13,15,13,12,10,8,5,9,11,9,8,10,9,6,8,9,11,10,8,9,7,9,8,8],
[0,0,0,0,0,0,1,3,5,4,3,2,4,2,3,1,2,1,1,1,1,2,2,4,5,8,11,12,14,12,14,13,16,14,11,8,6,8,10,9,11,9,10,5,9,10,8,7,9,10,8,9,8,7],
[0,0,0,0,0,0,2,4,5,3,3,4,2,3,2,2,1,2,1,1,2,2,3,4,6,10,12,14,13,15,13,16,14,12,10,9,6,10,9,12,10,12,9,6,8,9,8,10,9,8,9,8,7,9],
[0,0,0,0,0,0,2,4,6,4,4,3,5,3,3,2,2,1,2,1,2,3,3,5,7,11,13,16,18,16,19,15,14,10,11,9,5,9,11,10,13,11,9,6,9,8,10,9,8,10,8,7,9,8],
[0,0,0,0,0,0,3,5,5,5,3,4,3,2,4,3,2,2,1,2,2,3,4,6,9,12,14,18,16,19,17,18,13,12,10,9,6,10,9,11,14,10,8,5,9,11,9,8,10,9,8,9,7,8],
[0,0,0,0,0,0,3,5,6,5,5,3,4,3,3,4,2,3,2,3,3,4,5,9,11,14,18,15,21,17,15,17,12,10,11,8,5,8,11,9,12,9,10,6,8,10,9,10,9,8,10,8,9,7],
[0,0,0,0,0,1,4,6,7,4,6,4,3,5,3,3,4,3,2,3,4,4,6,11,14,19,15,20,18,19,14,16,11,12,9,8,6,10,9,12,10,11,9,7,12,16,11,9,8,9,10,9,8,9],
[0,0,0,0,0,2,5,7,8,5,5,5,4,3,5,3,3,4,3,4,5,6,10,14,17,20,17,19,16,14,13,15,12,10,9,12,7,10,13,11,10,9,11,7,13,15,12,9,10,8,9,8,9,8],
[0,0,0,0,1,3,7,8,9,6,7,5,5,4,4,5,4,4,4,5,6,9,13,18,21,21,18,17,15,16,15,13,11,12,10,13,7,9,12,14,11,9,10,8,11,13,9,10,8,9,8,9,7,8],
[0,0,0,0,2,4,11,9,7,8,8,6,5,5,4,4,5,6,5,7,9,12,16,22,24,20,18,15,13,17,14,12,9,12,11,14,8,9,11,12,13,10,9,6,13,10,9,8,11,9,9,7,8,9],
[0,0,0,1,3,5,9,8,9,7,6,7,5,4,6,5,6,7,7,9,12,14,19,25,22,18,17,15,15,14,12,14,9,11,13,10,7,11,10,13,10,12,8,7,11,9,10,8,9,8,7,9,8,6],
[0,0,0,1,9,5,8,10,8,9,7,6,8,5,5,7,8,8,10,12,14,17,21,24,21,18,16,15,14,16,13,12,10,13,11,12,8,10,12,11,9,13,9,6,10,8,9,7,8,7,8,6,9,5],
[0,0,0,2,12,6,11,13,10,12,8,7,5,8,9,9,11,13,13,15,17,19,20,28,24,20,17,15,18,13,11,13,9,12,10,11,7,9,11,13,12,10,9,6,9,8,11,9,7,6,7,8,6,10],
[0,0,0,3,13,9,10,11,7,8,6,9,8,10,11,12,14,16,14,16,18,18,16,21,20,18,17,16,15,16,12,10,11,9,12,13,8,11,13,10,9,8,10,7,8,7,9,6,8,7,6,9,10,8],
[0,0,0,5,16,8,6,7,5,7,6,8,10,13,11,14,15,21,19,20,22,21,15,19,23,21,18,17,14,13,11,12,10,13,11,10,7,10,12,9,11,10,8,9,7,6,8,9,7,10,6,8,7,9],
[0,0,2,14,12,6,5,4,6,5,7,9,13,16,21,20,18,23,22,24,20,22,14,25,20,22,15,19,13,21,11,10,12,11,9,12,8,9,14,12,15,13,9,7,8,10,8,7,9,6,7,5,4,3],
[0,0,6,18,8,5,4,5,4,6,7,10,16,19,27,32,17,24,21,26,23,24,15,22,18,19,13,17,15,12,10,11,9,12,10,9,6,10,12,11,13,10,8,6,9,7,8,6,5,4,3,2,1,0],
[0,0,17,14,6,5,6,4,5,7,9,12,20,31,35,33,20,19,22,23,24,26,13,27,29,18,16,15,12,10,9,11,10,8,11,10,7,9,10,8,9,7,6,5,5,3,3,2,1,0,0,0,0,0],
[0,9,20,10,5,5,5,7,9,13,15,22,45,44,46,41,21,24,30,34,28,29,14,24,26,20,15,13,14,9,6,8,7,9,8,7,6,7,6,5,5,4,3,2,2,1,0,0,0,0,0,0,0,0],
[0,16,20,10,8,7,7,10,16,22,18,24,35,30,24,20,16,36,30,26,25,20,13,31,20,17,14,11,10,8,5,7,6,6,5,5,4,3,3,2,1,1,0,0,0,0,0,0,0,0,0,0,0,0],
[0,30,20,13,12,9,9,12,17,30,14,20,22,24,17,21,15,18,21,24,20,18,12,15,17,16,13,10,9,7,6,5,4,3,4,3,2,2,1,1],
[24,26,16,14,14,12,11,14,20,31,15,18,23,16,22,19,14,16,20,17,14,11,9,13,14,12,10,8,7,6,4,4,3,2,2,2,1,1],
[40,30,20,18,17,16,21,22,34,26,14,12,17,20,13,16,12,14,18,24,13,10,9,12,13,10,8,7,7,6,3,3,2,1,1],
[50,34,20,18,16,15,19,30,27,18,12,13,10,12,14,10,9,13,11,13,8,9,8,11,9,10,7,6,6,8,3,2,2,1],
[15,36,24,19,18,14,24,30,24,13,8,7,11,9,10,8,7,12,10,9,8,6,5,7,6,5,4,4,6,5,1],
[0,38,24,20,19,18,26,32,18,5,3,5,7,5,9,7,5,14,13,11,6,5,4,2,2,1,1,1],
[0,14,28,24,18,14,27,23,12,1,1,2,4,6,8,5,5,13,12,9,4,3,2,1],
[0,2,24,30,20,13,30,20,5,0,0,1,3,4,6,6,5,10,8,5,2,1],
[0,0,6,26,28,18,26,15,2,0,0,0,1,2,9,8,9,5,3,1],
[0,0,1,12,27,20,22,6,0,0,0,0,0,1,3,5,2,1],
[0,0,0,4,26,16,10,1]
];
const heatColumnStart = 30;
const heatColumnStep = 5;
const heatRowStart = 12;
const heatRowStep = 0.5;
const heatMax = 50;

/* ---------- drawing helpers ---------- */
const NS = 'http://www.w3.org/2000/svg';
function make(tag, attrs, parent, name) {
  const e = document.createElementNS(NS, tag);
  for (const k in attrs) e.setAttribute(k, attrs[k]);
  
  
  parent.appendChild(e);
  return e;
}
function linScale(d0, d1, r0, r1) {
  return v => r0 + (v - d0) / (d1 - d0) * (r1 - r0);
}
function tangents(p) {
  const n = p.length;
  return p.map((q, i) => {
    if (i === 0) return (p[1][1] - p[0][1]) / (p[1][0] - p[0][0]);
    if (i === n - 1) return (p[n - 1][1] - p[n - 2][1]) / (p[n - 1][0] - p[n - 2][0]);
    const h0 = p[i][0] - p[i - 1][0], h1 = p[i + 1][0] - p[i][0];
    const s0 = (p[i][1] - p[i - 1][1]) / h0, s1 = (p[i + 1][1] - p[i][1]) / h1;
    return (s0 * h1 + s1 * h0) / (h0 + h1);
  });
}
function segments(p) {
  const m = tangents(p);
  let d = '';
  for (let i = 0; i < p.length - 1; i++) {
    const dx = (p[i + 1][0] - p[i][0]) / 3;
    d += 'C' + (p[i][0] + dx).toFixed(1) + ' ' + (p[i][1] + m[i] * dx).toFixed(1) + ' ' +
      (p[i + 1][0] - dx).toFixed(1) + ' ' + (p[i + 1][1] - m[i + 1] * dx).toFixed(1) + ' ' +
      p[i + 1][0].toFixed(1) + ' ' + p[i + 1][1].toFixed(1);
  }
  return d;
}
function curve(p) {
  return 'M' + p[0][0].toFixed(1) + ' ' + p[0][1].toFixed(1) + segments(p);
}
function series(xs, ys, x, y) {
  return xs.map((t, i) => [x(t), y(ys[i])]);
}
function drawLine(parent, xs, ys, x, y, style, name) {
  const attrs = Object.assign({ d: curve(series(xs, ys, x, y)), fill: 'none' }, style);
  return make('path', attrs, parent, name);
}
function segmentsReversed(p) {
  /* p runs right to left; slopes are computed on mirrored x */
  const mirrored = p.map(q => [-q[0], q[1]]);
  const m = tangents(mirrored);
  let d = '';
  for (let i = 0; i < p.length - 1; i++) {
    const dx = (mirrored[i + 1][0] - mirrored[i][0]) / 3;
    d += 'C' + (p[i][0] - dx).toFixed(1) + ' ' + (p[i][1] + m[i] * dx).toFixed(1) + ' ' +
      (p[i + 1][0] + dx).toFixed(1) + ' ' + (p[i + 1][1] - m[i + 1] * dx).toFixed(1) + ' ' +
      p[i + 1][0].toFixed(1) + ' ' + p[i + 1][1].toFixed(1);
  }
  return d;
}
function drawBand(parent, xs, hi, lo, x, y, color, name) {
  const top = series(xs, hi, x, y);
  const bottom = series(xs, lo, x, y).reverse();
  const d = curve(top) + 'L' + bottom[0][0].toFixed(1) + ' ' + bottom[0][1].toFixed(1) + segmentsReversed(bottom) + 'Z';
  return make('path', { d: d, fill: color }, parent, name);
}
function lerp(xs, ys, v) {
  const rising = xs[xs.length - 1] > xs[0];
  for (let i = 0; i < xs.length - 1; i++) {
    const inside = rising ? (v >= xs[i] && v <= xs[i + 1]) : (v <= xs[i] && v >= xs[i + 1]);
    if (inside) return ys[i] + (v - xs[i]) / (xs[i + 1] - xs[i]) * (ys[i + 1] - ys[i]);
  }
  const before = rising ? v < xs[0] : v > xs[0];
  return before ? ys[0] : ys[ys.length - 1];
}
let clipCount = 0;
function clipFor(parent, L, T, R, B) {
  clipCount += 1;
  const id = 'clip' + clipCount;
  const c = make('clipPath', { id: id }, parent, 'plot-clip');
  make('rect', { x: L, y: T, width: R - L, height: B - T }, c, 'plot-clip-area');
  return make('g', { 'clip-path': 'url(#' + id + ')' }, parent, 'data-layer');
}
function axesBack(parent, xt, yt, x, y, L, T, R, B) {
  const g = make('g', {}, parent, 'grid');
  xt.forEach(v => {
    make('line', { x1: x(v), x2: x(v), y1: T, y2: B, stroke: '#dcdcdc', 'stroke-width': 2.4 }, g, 'grid-line-x');
  });
  yt.forEach(v => {
    make('line', { x1: L, x2: R, y1: y(v), y2: y(v), stroke: '#dcdcdc', 'stroke-width': 2.4 }, g, 'grid-line-y');
  });
}
function axesFront(parent, xt, yt, x, y, L, T, R, B, tickColor) {
  const g = make('g', {}, parent, 'axes');
  make('rect', { x: L, y: T, width: R - L, height: B - T, fill: 'none', stroke: '#404040', 'stroke-width': 3.2 }, g, 'plot-box');
  xt.forEach(v => {
    make('path', { d: 'M' + x(v) + ' ' + B + 'v-10M' + x(v) + ' ' + T + 'v10', stroke: tickColor, 'stroke-width': 2.5 }, g, 'x-tick');
    const label = make('text', { x: x(v), y: B + 49, 'text-anchor': 'middle', class: 'tick' }, g, 'x-tick-label');
    label.textContent = v;
  });
  yt.forEach(v => {
    make('path', { d: 'M' + L + ' ' + y(v) + 'h10M' + R + ' ' + y(v) + 'h-10', stroke: tickColor, 'stroke-width': 2.5 }, g, 'y-tick');
    const label = make('text', { x: L - 16, y: y(v) + 12, 'text-anchor': 'end', class: 'tick' }, g, 'y-tick-label');
    label.textContent = v;
  });
}
function hot(v) {
  const f = Math.min(1, Math.max(0, v / heatMax));
  const r = Math.min(1, f / 0.375);
  const g = Math.min(1, Math.max(0, (f - 0.375) / 0.375));
  const b = Math.min(1, Math.max(0, (f - 0.75) / 0.25));
  return 'rgb(' + Math.round(r * 255) + ',' + Math.round(g * 255) + ',' + Math.round(b * 255) + ')';
}

/* ---------- chart 1 ---------- */
(function () {
  const host = document.getElementById('c1');
  const L = 213, R = 1226, T = 71, B = 878;
  const x = linScale(0, 300, L, R), y = linScale(0, 350, B, T);
  axesBack(host, timeTicks, sizeTicks, x, y, L, T, R, B);
  const g = clipFor(host, L, T, R, B);
  drawBand(g, closedCoreTime, closedCoreHigh, closedCoreLow, x, y, '#0000ff', 'closed-loop-dense-band');
  stripeStart.forEach((t0, i) => {
    const t1 = stripeEnd[i];
    const pts = [];
    for (let k = 0; k <= 4; k++) {
      const t = t0 + (t1 - t0) * k / 4;
      pts.push(x(t).toFixed(1) + ',' + y(lerp(closedEnvTime, closedEnvHigh, t)).toFixed(1));
    }
    for (let k = 4; k >= 0; k--) {
      const t = t0 + (t1 - t0) * k / 4;
      pts.push(x(t).toFixed(1) + ',' + y(lerp(closedEnvTime, closedEnvLow, t)).toFixed(1));
    }
    make('polygon', { points: pts.join(' '), fill: '#0000ff' }, g, 'closed-loop-dash-stripe');
  });
  drawLine(g, closedFloorTime, closedFloorSize, x, y, { stroke: '#0000ff', 'stroke-width': 7 }, 'closed-loop-floor-run');
  fringeRuns.forEach(run => {
    drawLine(g, fringeTime, run, x, y, { stroke: '#1010e0', 'stroke-width': 2.8, 'stroke-dasharray': '28 9' }, 'closed-loop-fringe-run');
  });
  drawLine(g, desiredTime, desiredSize, x, y, { stroke: '#000', 'stroke-width': 8 }, 'desired-mean-size-line');
  axesFront(host, timeTicks, sizeTicks, x, y, L, T, R, B, '#262626');
})();

/* ---------- chart 2 ---------- */
(function () {
  const host = document.getElementById('c2');
  const L = 1548, R = 2565, T = 71, B = 878;
  const x = linScale(0, 300, L, R), y = linScale(0, 350, B, T);
  axesBack(host, timeTicks, sizeTicks, x, y, L, T, R, B);
  const g = clipFor(host, L, T, R, B);
  drawBand(g, openTime, openCoreHigh, openCoreLow, x, y, '#ff0000', 'open-loop-dense-band');
  openRuns.forEach(run => {
    drawLine(g, openTime, run, x, y, { stroke: '#e01414', 'stroke-width': 3 }, 'open-loop-run');
  });
  drawLine(g, desiredTime, desiredSize, x, y, { stroke: '#000', 'stroke-width': 8 }, 'desired-mean-size-line');
  axesFront(host, timeTicks, sizeTicks, x, y, L, T, R, B, '#262626');
})();

/* ---------- chart 3 ---------- */
(function () {
  const host = document.getElementById('c3');
  const L = 213, R = 2563, T = 1193, B = 2000;
  const x = linScale(0, 300, L, R), y = linScale(0, 350, B, T);
  axesBack(host, timeTicks, sizeTicks, x, y, L, T, R, B);
  const g = clipFor(host, L, T, R, B);
  const redDash = { stroke: '#cc2020', 'stroke-width': 6, 'stroke-dasharray': '17 10' };
  const blueDash = { stroke: '#1414cc', 'stroke-width': 6, 'stroke-dasharray': '17 10' };
  drawLine(g, openUpperTime, openUpperSize, x, y, redDash, 'open-loop-upper-bound');
  drawLine(g, openLowerTime, openLowerSize, x, y, redDash, 'open-loop-lower-bound');
  drawLine(g, pidUpperTime, pidUpperSize, x, y, blueDash, 'controlled-upper-bound');
  drawLine(g, pidLowerTime, pidLowerSize, x, y, blueDash, 'controlled-lower-bound');
  drawLine(g, desiredTime, desiredSize, x, y, { stroke: '#000', 'stroke-width': 9 }, 'desired-mean-size-line');
  drawLine(g, pidMeanTime, pidMeanSize, x, y, { stroke: '#1010c0', 'stroke-width': 6.5 }, 'controlled-mean-line');
  drawLine(g, openMeanTime, openMeanSize, x, y, { stroke: '#d01f1f', 'stroke-width': 6.5 }, 'open-loop-mean-line');
  axesFront(host, timeTicks, sizeTicks, x, y, L, T, R, B, '#262626');
})();

/* ---------- chart 4 ---------- */
(function () {
  const host = document.getElementById('c4');
  const L = 178, R = 1241, T = 2318, B = 3477;
  const x = linScale(0, 300, L, R), y = linScale(12, 32, B, T);
  axesBack(host, timeTicks, tempTicks, x, y, L, T, R, B);
  const g = clipFor(host, L, T, R, B);
  function pairs(run) {
    const xs = [], ys = [];
    for (let i = 0; i < run.length; i += 2) {
      xs.push(run[i]);
      ys.push(Math.max(12, run[i + 1]));
    }
    return [xs, ys];
  }
  barTops.forEach(top => {
    const t0 = lerp(barEdgeTemp, barLeftTime, top);
    const t1 = lerp(barEdgeTemp, barRightTime, top);
    make('rect', { x: x(t0), y: y(top), width: x(t1) - x(t0), height: y(top - barThickness) - y(top), fill: '#0000ff' }, g, 'steep-descent-dash-bar');
  });
  blobTops.forEach((top, i) => {
    make('rect', { x: x(blobLeftTime[i]), y: y(top), width: x(blobRightTime[i]) - x(blobLeftTime[i]), height: y(top - blobThickness) - y(top), rx: 3, fill: '#0000ff' }, g, 'rising-dash-blob');
  });
  const mass = drawBand(g, massTime, massHigh, massLow, x, y, '#0000ff', 'early-dense-profile-band');
  mass.setAttribute('fill-opacity', '0.85');
  profileRuns.forEach(run => {
    const [xs, ys] = pairs(run);
    drawLine(g, xs, ys, x, y, { stroke: '#0a0af0', 'stroke-width': 3, 'stroke-dasharray': '24 7' }, 'closed-loop-temperature-profile');
  });
  make('line', { x1: x(rampTime[0]), y1: y(rampTemp[0]), x2: x(rampTime[1]), y2: y(rampTemp[1]), stroke: '#000', 'stroke-width': 9 }, host, 'initial-ramp-line');
  drawLine(host, initialTime, initialTemp, x, y, { stroke: '#000', 'stroke-width': 8 }, 'initial-temperature-line');
  axesFront(host, timeTicks, tempTicks, x, y, L, T, R, B, '#262626');
})();

/* ---------- chart 5 ---------- */
(function () {
  const host = document.getElementById('c5');
  const L = 1578, R = 2468, T = 2318, B = 3477, strip = 11;
  const x = linScale(30, 300, L, R), yAxis = linScale(12, 32, T, B);
  const y = linScale(12, 32, T + strip, B);
  make('rect', { x: L, y: T, width: R - L, height: B - T, fill: '#000' }, host, 'heatmap-background');
  const g = make('g', { 'shape-rendering': 'crispEdges' }, host, 'heatmap-cells');
  heatTopRow.forEach((v, c) => {
    const t = heatColumnStart + c * heatColumnStep;
    make('rect', { x: x(t), y: T, width: x(t + heatColumnStep) - x(t) + 0.5, height: strip + 0.5, fill: hot(v) }, g, 'heatmap-cell-clamped');
  });
  heatRows.forEach((row, r) => {
    const temp = heatRowStart + r * heatRowStep;
    row.forEach((v, c) => {
      if (v <= 0) return;
      const t = heatColumnStart + c * heatColumnStep;
      make('rect', { x: x(t), y: y(temp), width: x(t + heatColumnStep) - x(t) + 0.5, height: y(temp + heatRowStep) - y(temp) + 0.5, fill: hot(v) }, g, 'heatmap-cell');
    });
  });
  const ax = make('g', {}, host, 'axes');
  make('rect', { x: L, y: T, width: R - L, height: B - T, fill: 'none', stroke: '#555', 'stroke-width': 1.6 }, ax, 'plot-box');
  heatTimeTicks.forEach(v => {
    make('path', { d: 'M' + x(v) + ' ' + B + 'v-10M' + x(v) + ' ' + T + 'v10', stroke: '#3a3a3a', 'stroke-width': 2 }, ax, 'x-tick');
    const label = make('text', { x: x(v), y: B + 48, 'text-anchor': 'middle', class: 'tick', 'font-size': 32 }, ax, 'x-tick-label');
    label.textContent = v;
  });
  tempTicks.forEach(v => {
    make('path', { d: 'M' + L + ' ' + yAxis(v) + 'h10M' + R + ' ' + yAxis(v) + 'h-10', stroke: '#3a3a3a', 'stroke-width': 2 }, ax, 'y-tick');
    const label = make('text', { x: L - 15, y: yAxis(v) + 12, 'text-anchor': 'end', class: 'tick' }, ax, 'y-tick-label');
    label.textContent = v;
  });
  /* colorbar */
  const cL = 2524, cR = 2576, cT = 2318, cB = 3479;
  const cb = make('g', {}, host, 'colorbar');
  const cy = linScale(0, heatMax, cB, cT);
  const cg = make('g', { 'shape-rendering': 'crispEdges' }, cb, 'colorbar-gradient');
  for (let v = 0; v < heatMax; v += 0.5) {
    make('rect', { x: cL, y: cy(v + 0.5), width: cR - cL, height: cy(v) - cy(v + 0.5) + 0.5, fill: hot(v + 0.25) }, cg, 'colorbar-step');
  }
  make('rect', { x: cL, y: cT, width: cR - cL, height: cB - cT, fill: 'none', stroke: '#404040', 'stroke-width': 2.2 }, cb, 'colorbar-box');
  colorbarTicks.forEach(v => {
    make('line', { x1: cR - 9, x2: cR, y1: cy(v), y2: cy(v), stroke: '#3a3a3a', 'stroke-width': 2 }, cb, 'colorbar-tick');
    const label = make('text', { x: cR + 15, y: cy(v) + 11, class: 'tick' }, cb, 'colorbar-tick-label');
    label.textContent = v;
  });
})();
</script>
</body>
</html>
